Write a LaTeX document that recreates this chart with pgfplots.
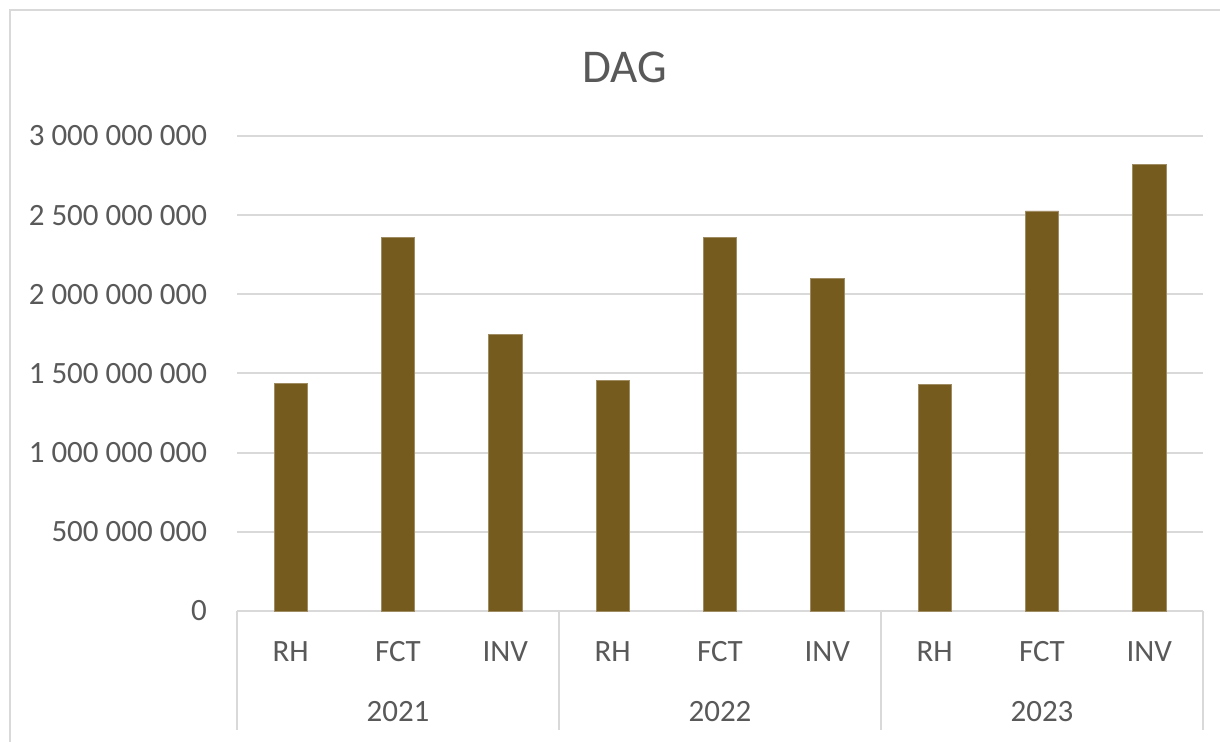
\documentclass[border=0pt]{standalone}
\usepackage{pgfplots}
\pgfplotsset{compat=1.18}
\usepackage{fontspec}
\setmainfont{Carlito}
\definecolor{barc}{HTML}{765B1F}
\definecolor{txt}{HTML}{595959}
\definecolor{grd}{HTML}{D9D9D9}
\begin{document}
\begin{tikzpicture}
\useasboundingbox (0,0) rectangle (610pt,371pt);
\draw[grd, line width=1pt] (5pt,-10pt) -- (5pt,366pt) -- (640pt,366pt);
\node[text=txt, font=\fontsize{23.5}{28}\selectfont] at (312.5pt,337.5pt) {DAG};
\begin{axis}[
  at={(118.5pt,65.5pt)}, anchor=south west,
  scale only axis, width=483pt, height=237.5pt,
  xmin=-0.5, xmax=8.5, ymin=0, ymax=3e9,
  axis line style={draw=none},
  major tick length=0pt,
  xtick=data,
  xticklabels={RH,FCT,INV,RH,FCT,INV,RH,FCT,INV},
  xticklabel style={anchor=center, yshift=-20.5pt, text=txt, font=\fontsize{15.5}{18}\selectfont},
  ytick={0,5e8,1e9,1.5e9,2e9,2.5e9,3e9},
  yticklabel style={text=txt, font=\fontsize{15.5}{18}\selectfont, xshift=-11.5pt},
  scaled y ticks=false,
  /pgf/number format/.cd, fixed, precision=0, 1000 sep={\ }, assume math mode=true,
  /pgfplots/.cd,
  ymajorgrids, grid style={grd, line width=1pt},
  clip=false,
]
\addplot[ybar, bar width=0.31, fill=barc, draw=barc!70!white, line width=0.3pt] coordinates {
(0,1.435e9) (1,2.36e9) (2,1.745e9)
(3,1.457e9) (4,2.36e9) (5,2.10e9)
(6,1.43e9) (7,2.527e9) (8,2.82e9)};
\pgfplotsinvokeforeach{-0.5,2.5,5.5,8.5}{
  \draw[grd, line width=1pt] (axis cs:#1,0) -- ([yshift=-59.5pt]axis cs:#1,0);
}
\node[text=txt, font=\fontsize{15.5}{18}\selectfont] at ([yshift=-50.5pt]axis cs:1,0) {2021};
\node[text=txt, font=\fontsize{15.5}{18}\selectfont] at ([yshift=-50.5pt]axis cs:4,0) {2022};
\node[text=txt, font=\fontsize{15.5}{18}\selectfont] at ([yshift=-50.5pt]axis cs:7,0) {2023};
\end{axis}
\end{tikzpicture}
\end{document}
